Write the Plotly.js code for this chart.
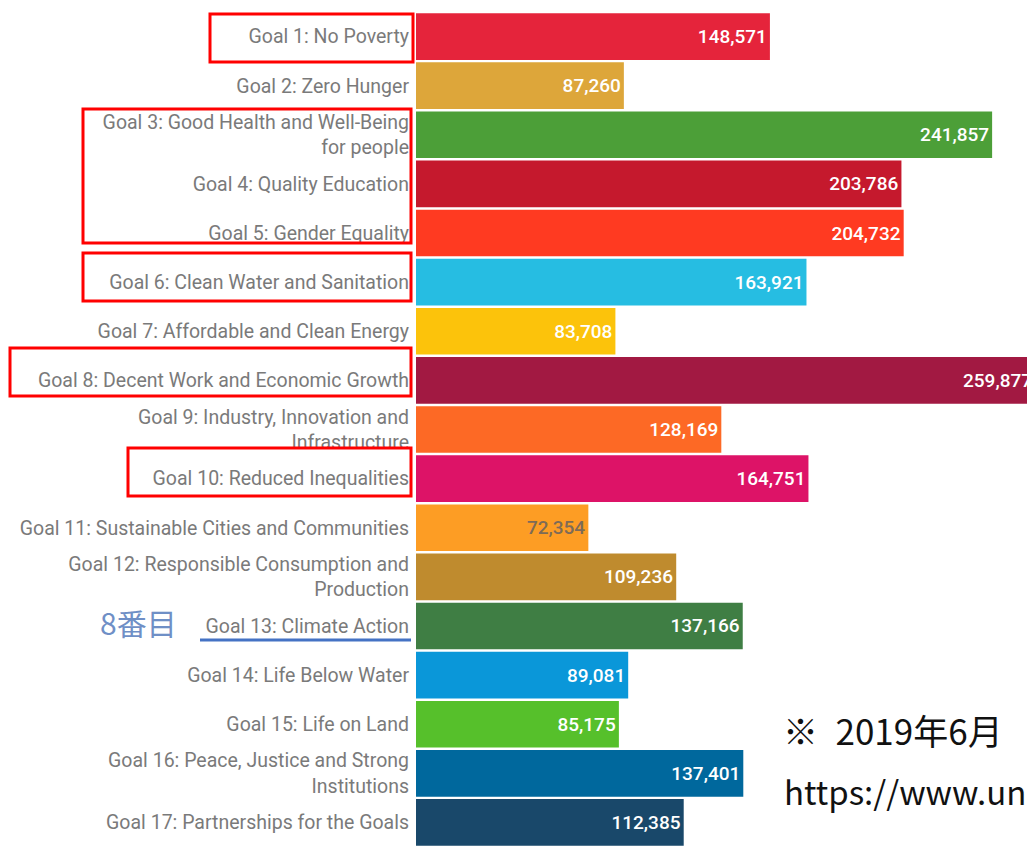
<!DOCTYPE html>
<html>
<head>
<meta charset="utf-8">
<script src="https://cdn.plot.ly/plotly-3.0.1.min.js"></script>
<style>
  html, body { margin: 0; padding: 0; background: #fff; }
  #plot { width: 1027px; height: 847px; }
</style>
</head>
<body>
<div id="plot"></div>
<script>
// SDG goal labels (top to bottom)
const goals = [
  "Goal 1: No Poverty",
  "Goal 2: Zero Hunger",
  "Goal 3: Good Health and Well-Being<br>for people",
  "Goal 4: Quality Education",
  "Goal 5: Gender Equality",
  "Goal 6: Clean Water and Sanitation",
  "Goal 7: Affordable and Clean Energy",
  "Goal 8: Decent Work and Economic Growth",
  "Goal 9: Industry, Innovation and<br>Infrastructure",
  "Goal 10: Reduced Inequalities",
  "Goal 11: Sustainable Cities and Communities",
  "Goal 12: Responsible Consumption and<br>Production",
  "Goal 13: Climate Action",
  "Goal 14: Life Below Water",
  "Goal 15: Life on Land",
  "Goal 16: Peace, Justice and Strong<br>Institutions",
  "Goal 17: Partnerships for the Goals"
];

// values per goal
const votes = [
  148571, 87260, 241857, 203786, 204732, 163921, 83708, 259877, 128169,
  164751, 72354, 109236, 137166, 89081, 85175, 137401, 112385
];

// official SDG colours
const goalColors = [
  "#E5243B", "#DDA63A", "#4C9F38", "#C5192D", "#FF3A21", "#26BDE2",
  "#FCC30B", "#A21942", "#FD6925", "#DD1367", "#FD9D24", "#BF8B2E",
  "#3F7E44", "#0A97D9", "#56C02B", "#00689D", "#19486A"
];

const labelColors = goalColors.map((c, i) => i === 10 ? "#7d6b57" : "#ffffff");

// plot area in pixels
const W = 1027, H = 847;
const L = 416, T = 12;
const px = x => (x - L) / (W - L);
const py = y => (H - y) / (H - T);

const trace = {
  type: "bar",
  orientation: "h",
  y: goals,
  x: votes,
  marker: { color: goalColors, line: { width: 0 } },
  text: votes.map(v => v.toLocaleString("en-US")),
  textposition: "inside",
  insidetextanchor: "end",
  textangle: 0,
  textfont: { family: "Roboto", size: 19, color: labelColors, weight: 500 },
  constraintext: "none",
  hoverinfo: "none"
};

// red highlight boxes around labels: [x0, y0, x1, y1] in pixels
const boxes = [
  [210, 14, 413, 62],
  [83, 109, 411, 243],
  [83, 253, 411, 301],
  [10, 348, 411, 396],
  [128, 448, 411, 496]
];

const shapes = boxes.map(b => ({
  type: "rect", xref: "paper", yref: "paper",
  x0: px(b[0]), x1: px(b[2]), y0: py(b[3]), y1: py(b[1]),
  line: { color: "#ff0000", width: 3 }
}));

shapes.push({
  type: "line", xref: "paper", yref: "paper",
  x0: px(200), x1: px(411), y0: py(640), y1: py(640),
  line: { color: "#4472C4", width: 3 }
});

const annotations = [
  {
    text: "8番目", xref: "paper", yref: "paper",
    x: px(98), y: py(622), xanchor: "left", yanchor: "middle",
    showarrow: false,
    font: { family: "Noto Sans CJK JP", size: 30, color: "#6f8fc6" }
  },
  {
    text: "※\u20022019年6月", xref: "paper", yref: "paper",
    x: px(781), y: py(729), xanchor: "left", yanchor: "middle",
    showarrow: false,
    font: { family: "Noto Sans CJK JP", size: 35, color: "#111111" }
  },
  {
    text: "https://www.un", xref: "paper", yref: "paper",
    x: px(782), y: py(791), xanchor: "left", yanchor: "middle",
    showarrow: false,
    font: { family: "Noto Sans CJK JP", size: 33, color: "#111111" }
  }
];

const layout = {
  width: W,
  height: H,
  margin: { l: L, r: 0, t: T, b: 0 },
  paper_bgcolor: "#ffffff",
  plot_bgcolor: "#ffffff",
  showlegend: false,
  bargap: 0.05,
  xaxis: {
    range: [0, 256500],
    visible: false,
    showgrid: false,
    zeroline: false
  },
  yaxis: {
    autorange: "reversed",
    showgrid: false,
    zeroline: false,
    showline: false,
    ticks: "",
    ticklabelstandoff: 6,
    tickfont: { family: "Roboto", size: 19.5, color: "#7a7a7a" },
    automargin: false
  },
  shapes: shapes,
  annotations: annotations
};

Plotly.newPlot("plot", [trace], layout, { displayModeBar: false, staticPlot: true });
</script>
</body>
</html>
